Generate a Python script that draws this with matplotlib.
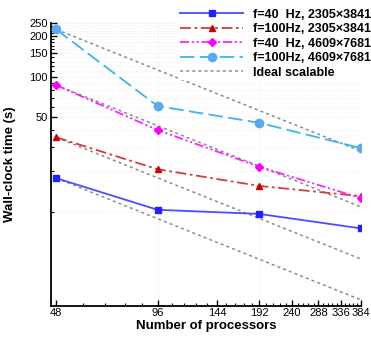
import numpy as np
import matplotlib
matplotlib.use("Agg")
from matplotlib import pyplot as plt
from matplotlib.ticker import FixedLocator, NullFormatter

plt.rcParams['font.family'] = ['Liberation Sans', 'DejaVu Sans']

procs = [48, 96, 192, 384]
t_40_small = [17.7, 10.3, 9.6, 7.5]
t_100_small = [35.6, 20.6, 15.5, 13.0]
t_40_large = [86.8, 40.3, 21.5, 12.6]
t_100_large = [225, 60.7, 45.6, 29.6]

labels = ["f=40  Hz, 2305\u00d73841", "f=100Hz, 2305\u00d73841",
          "f=40  Hz, 4609\u00d77681", "f=100Hz, 4609\u00d77681"]
xticks = [48, 96, 144, 192, 240, 288, 336, 384]
yticks = [50, 100, 150, 200, 250]

fig = plt.figure(figsize=(3.71, 3.37), dpi=100)
ax = fig.add_axes([0.137, 0.093, 0.836, 0.838])

x = np.array(procs, dtype=float)
series = [t_40_small, t_100_small, t_40_large, t_100_large]
styles = [
    dict(color='#4b4bff', ls='-', marker='s', mfc='#2222ff', mec='#2222ff', ms=5),
    dict(color='#d63a3a', ls=(0, (6, 2, 1.5, 2)), marker='^', mfc='#cc0000', mec='#cc0000', ms=5),
    dict(color='#ff22ff', ls=(0, (5, 1.5, 1.2, 1.5, 1.2, 1.5)), marker='D', mfc='#ff00ff', mec='#ff00ff', ms=4.5),
    dict(color='#3cb4f0', ls=(0, (8, 3)), marker='o', mfc='#5aaaf0', mec='#5aaaf0', ms=6),
]
handles = []
for s, st, lab in zip(series, styles, labels):
    h, = ax.plot(x, s, lw=1.3, label=lab, zorder=3, **st)
    handles.append(h)

# ideal scaling from the first point of each run
for s in series:
    ideal = s[0] * x[0] / x
    hi, = ax.plot(x, ideal, color='#8c8c8c', ls=(0, (2, 2)), lw=1.1, zorder=2)
hi.set_label("Ideal scalable")
handles.append(hi)

ax.set_xscale('log')
ax.set_yscale('log')
ax.set_xlim(46.3, 385)
ax.set_ylim(2, 250)

ax.xaxis.set_major_locator(FixedLocator(xticks))
ax.xaxis.set_minor_locator(FixedLocator(np.arange(48, 385, 9.6)))
ax.set_xticklabels([str(v) for v in xticks])
ax.xaxis.set_minor_formatter(NullFormatter())
ax.yaxis.set_major_locator(FixedLocator(yticks))
ax.yaxis.set_minor_locator(FixedLocator(np.arange(10, 251, 10)))
ax.set_yticklabels([str(v) for v in yticks])
ax.yaxis.set_minor_formatter(NullFormatter())

ax.tick_params(which='both', direction='in', labelsize=8, pad=2)
ax.tick_params(which='major', length=4, width=1)
ax.tick_params(which='minor', length=2.5, width=0.8)
ax.spines['top'].set_visible(False)
ax.spines['right'].set_visible(False)
ax.spines['left'].set_linewidth(1.3)
ax.spines['bottom'].set_linewidth(1.3)

for v in [96, 192]:
    ax.axvline(v, color='#e4e4e4', ls=':', lw=0.6, zorder=1)
for v in np.arange(10, 251, 10):
    ax.axhline(v, color='#e8e8e8', ls=':', lw=0.6, zorder=1)

ax.set_xlabel("Number of processors", fontsize=9.5, fontweight='bold', labelpad=1)
ax.set_ylabel("Wall-clock time (s)", fontsize=9.5, fontweight='bold')
ax.yaxis.set_label_coords(-0.112, 0.5)

leg = fig.legend(handles=handles, loc='upper right', bbox_to_anchor=(1.005, 0.98),
                 frameon=True, fontsize=9, handlelength=5.0, labelspacing=0.2,
                 handletextpad=0.8, borderpad=0.15, borderaxespad=0.0)
leg.get_frame().set_edgecolor('none')
leg.get_frame().set_facecolor('white')
leg.get_frame().set_alpha(1)
for t in leg.get_texts():
    t.set_fontweight('bold')

fig.savefig("out.png", dpi=100)
